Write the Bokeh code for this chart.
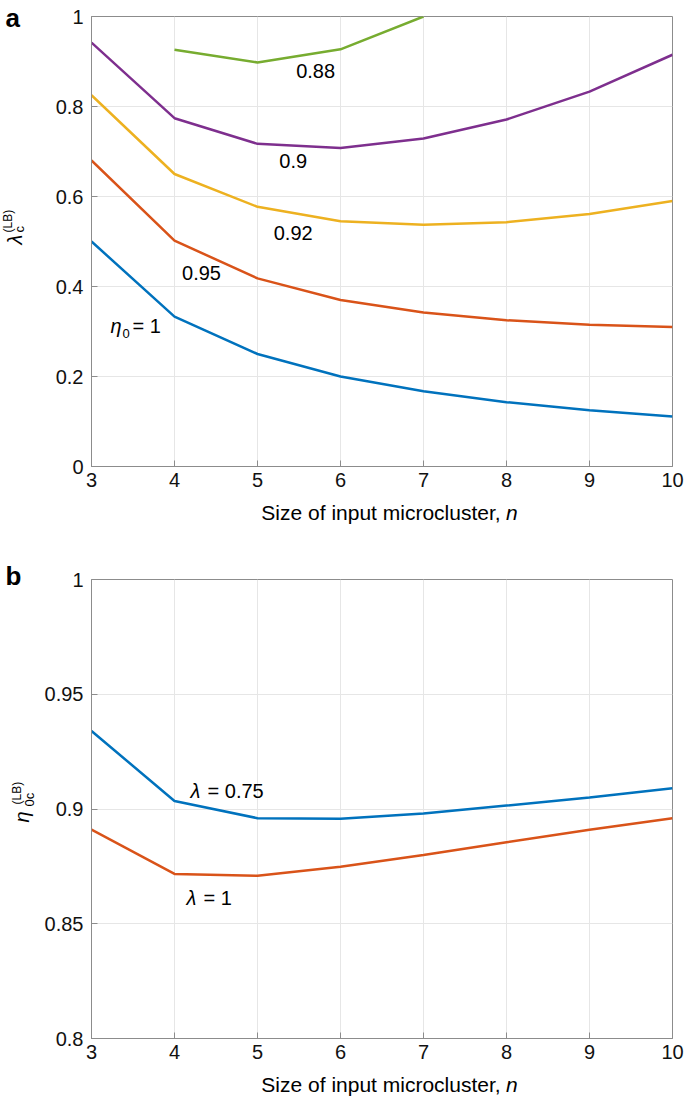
import math
from bokeh.plotting import figure
from bokeh.models import Range1d, FixedTicker, Label
from bokeh.layouts import column, row
from bokeh.embed import file_html
from bokeh.resources import INLINE

# ---------------- data ----------------
n = [3, 4, 5, 6, 7, 8, 9, 10]
lam_eta100 = [0.500, 0.333, 0.250, 0.200, 0.167, 0.143, 0.125, 0.111]
lam_eta095 = [0.680, 0.502, 0.418, 0.370, 0.342, 0.325, 0.315, 0.310]
lam_eta092 = [0.825, 0.650, 0.577, 0.545, 0.537, 0.543, 0.561, 0.590]
lam_eta090 = [0.942, 0.774, 0.717, 0.708, 0.729, 0.771, 0.833, 0.915]
n_088 = [4, 5, 6, 7]
lam_eta088 = [0.926, 0.898, 0.927, 1.000]

eta_lam075 = [0.934, 0.9035, 0.896, 0.8957, 0.898, 0.9015, 0.905, 0.909]
eta_lam100 = [0.891, 0.8717, 0.8709, 0.8748, 0.880, 0.8855, 0.891, 0.896]

x_ticks = [3, 4, 5, 6, 7, 8, 9, 10]
y1_ticks = [0, 0.2, 0.4, 0.6, 0.8, 1]
y1_tick_labels = ["0", "0.2", "0.4", "0.6", "0.8", "1"]
y2_ticks = [0.8, 0.85, 0.9, 0.95, 1]
y2_tick_labels = ["0.8", "0.85", "0.9", "0.95", "1"]

C_BLUE = "#0072BD"
C_RED = "#D95319"
C_YEL = "#EDB120"
C_PUR = "#7E2F8E"
C_GRN = "#77AC30"

FONT = "Liberation Sans"
AX_GRAY = "#8c8c8c"
LW = 2.5
STRIP_W = 36


def style(p, yticks, ylabels):
    p.xaxis.ticker = FixedTicker(ticks=x_ticks)
    p.yaxis.ticker = FixedTicker(ticks=yticks)
    p.yaxis.major_label_overrides = {t: s for t, s in zip(yticks, ylabels)}
    p.xaxis.major_label_overrides = {t: str(t) for t in x_ticks}
    for ax in (p.xaxis, p.yaxis):
        ax.axis_line_color = AX_GRAY
        ax.major_tick_line_color = AX_GRAY
        ax.major_tick_in = 6
        ax.major_tick_out = 0
        ax.minor_tick_line_color = None
        ax.major_label_text_font = FONT
        ax.major_label_text_font_size = "20px"
        ax.major_label_text_color = "#111111"
    p.xaxis.major_label_standoff = 6
    p.yaxis.major_label_standoff = 8
    p.xgrid.grid_line_color = "#e6e6e6"
    p.ygrid.grid_line_color = "#e6e6e6"
    p.outline_line_color = AX_GRAY
    p.outline_line_width = 1
    p.background_fill_color = "white"
    p.border_fill_color = "white"


def lab(p, x, y, t, size, fstyle="normal", align="left", baseline="middle", angle=0.0):
    p.add_layout(Label(x=x, y=y, text=t, text_font=FONT,
                       text_font_size=f"{size}px", text_font_style=fstyle,
                       text_align=align, text_baseline=baseline,
                       angle=angle, text_color="#000000"))


def strip(w, h):
    # a blank text strip whose data space equals its pixel space (y downward)
    s = figure(width=w, height=h, x_range=Range1d(0, w), y_range=Range1d(h, 0),
               output_backend="svg", toolbar_location=None,
               x_axis_type=None, y_axis_type=None,
               min_border_left=0, min_border_right=0, min_border_top=0, min_border_bottom=0)
    s.outline_line_color = None
    s.xgrid.visible = False
    s.ygrid.visible = False
    s.background_fill_color = "white"
    s.border_fill_color = "white"
    return s


# ---------------- panel a ----------------
p1 = figure(width=685 - STRIP_W, height=500, x_range=Range1d(3, 10), y_range=Range1d(0, 1),
            output_backend="svg", toolbar_location=None,
            min_border_left=91 - STRIP_W, min_border_right=13, min_border_top=16, min_border_bottom=34)
style(p1, y1_ticks, y1_tick_labels)
p1.line(n, lam_eta100, line_color=C_BLUE, line_width=LW)
p1.line(n, lam_eta095, line_color=C_RED, line_width=LW)
p1.line(n, lam_eta092, line_color=C_YEL, line_width=LW)
p1.line(n, lam_eta090, line_color=C_PUR, line_width=LW)
p1.line(n_088, lam_eta088, line_color=C_GRN, line_width=LW)

lab(p1, 5.70, 0.880, "0.88", 20, align="center")
lab(p1, 5.43, 0.678, "0.9", 20, align="center")
lab(p1, 5.43, 0.520, "0.92", 20, align="center")
lab(p1, 4.325, 0.429, "0.95", 20, align="center")
lab(p1, 3.229, 0.313, "η", 20, fstyle="italic")
lab(p1, 3.373, 0.296, "0", 13)
lab(p1, 3.494, 0.313, "= 1", 20)

# x title strip under panel a
x1 = strip(685 - STRIP_W, 38)
lab(x1, 493 - STRIP_W, 12, "Size of input microcluster,", 21, align="right")
lab(x1, 499 - STRIP_W, 12, "n", 21, fstyle="italic")

# left strip of panel a: letter and y title
l1 = strip(STRIP_W, 538)
lab(l1, 5, 17, "a", 26, fstyle="bold", baseline="alphabetic")
lab(l1, 14, 244, "λ", 20, fstyle="italic", angle=math.pi / 2)
lab(l1, 18.5, 232, "c", 13, angle=math.pi / 2)
lab(l1, 7.5, 232, "(LB)", 12, angle=math.pi / 2)

# ---------------- panel b ----------------
p2 = figure(width=685 - STRIP_W, height=534, x_range=Range1d(3, 10), y_range=Range1d(0.8, 1),
            output_backend="svg", toolbar_location=None,
            min_border_left=91 - STRIP_W, min_border_right=13, min_border_top=41, min_border_bottom=34)
style(p2, y2_ticks, y2_tick_labels)
p2.line(n, eta_lam075, line_color=C_BLUE, line_width=LW)
p2.line(n, eta_lam100, line_color=C_RED, line_width=LW)

lab(p2, 4.193, 0.908, "λ", 20, fstyle="italic")
lab(p2, 4.398, 0.908, "= 0.75", 20)
lab(p2, 4.145, 0.8614, "λ", 20, fstyle="italic")
lab(p2, 4.349, 0.8614, "= 1", 20)

x2 = strip(685 - STRIP_W, 27)
lab(x2, 493 - STRIP_W, 12, "Size of input microcluster,", 21, align="right")
lab(x2, 499 - STRIP_W, 12, "n", 21, fstyle="italic")

l2 = strip(STRIP_W, 561)
lab(l2, 5, 37, "b", 26, fstyle="bold", baseline="alphabetic")
lab(l2, 21, 284, "η", 20, fstyle="italic", angle=math.pi / 2)
lab(l2, 29, 268, "0c", 13, angle=math.pi / 2)
lab(l2, 16, 266, "(LB)", 12, angle=math.pi / 2)

layout = column(row(l1, column(p1, x1)), row(l2, column(p2, x2)))
open("out.html", "w").write(file_html(layout, INLINE))
